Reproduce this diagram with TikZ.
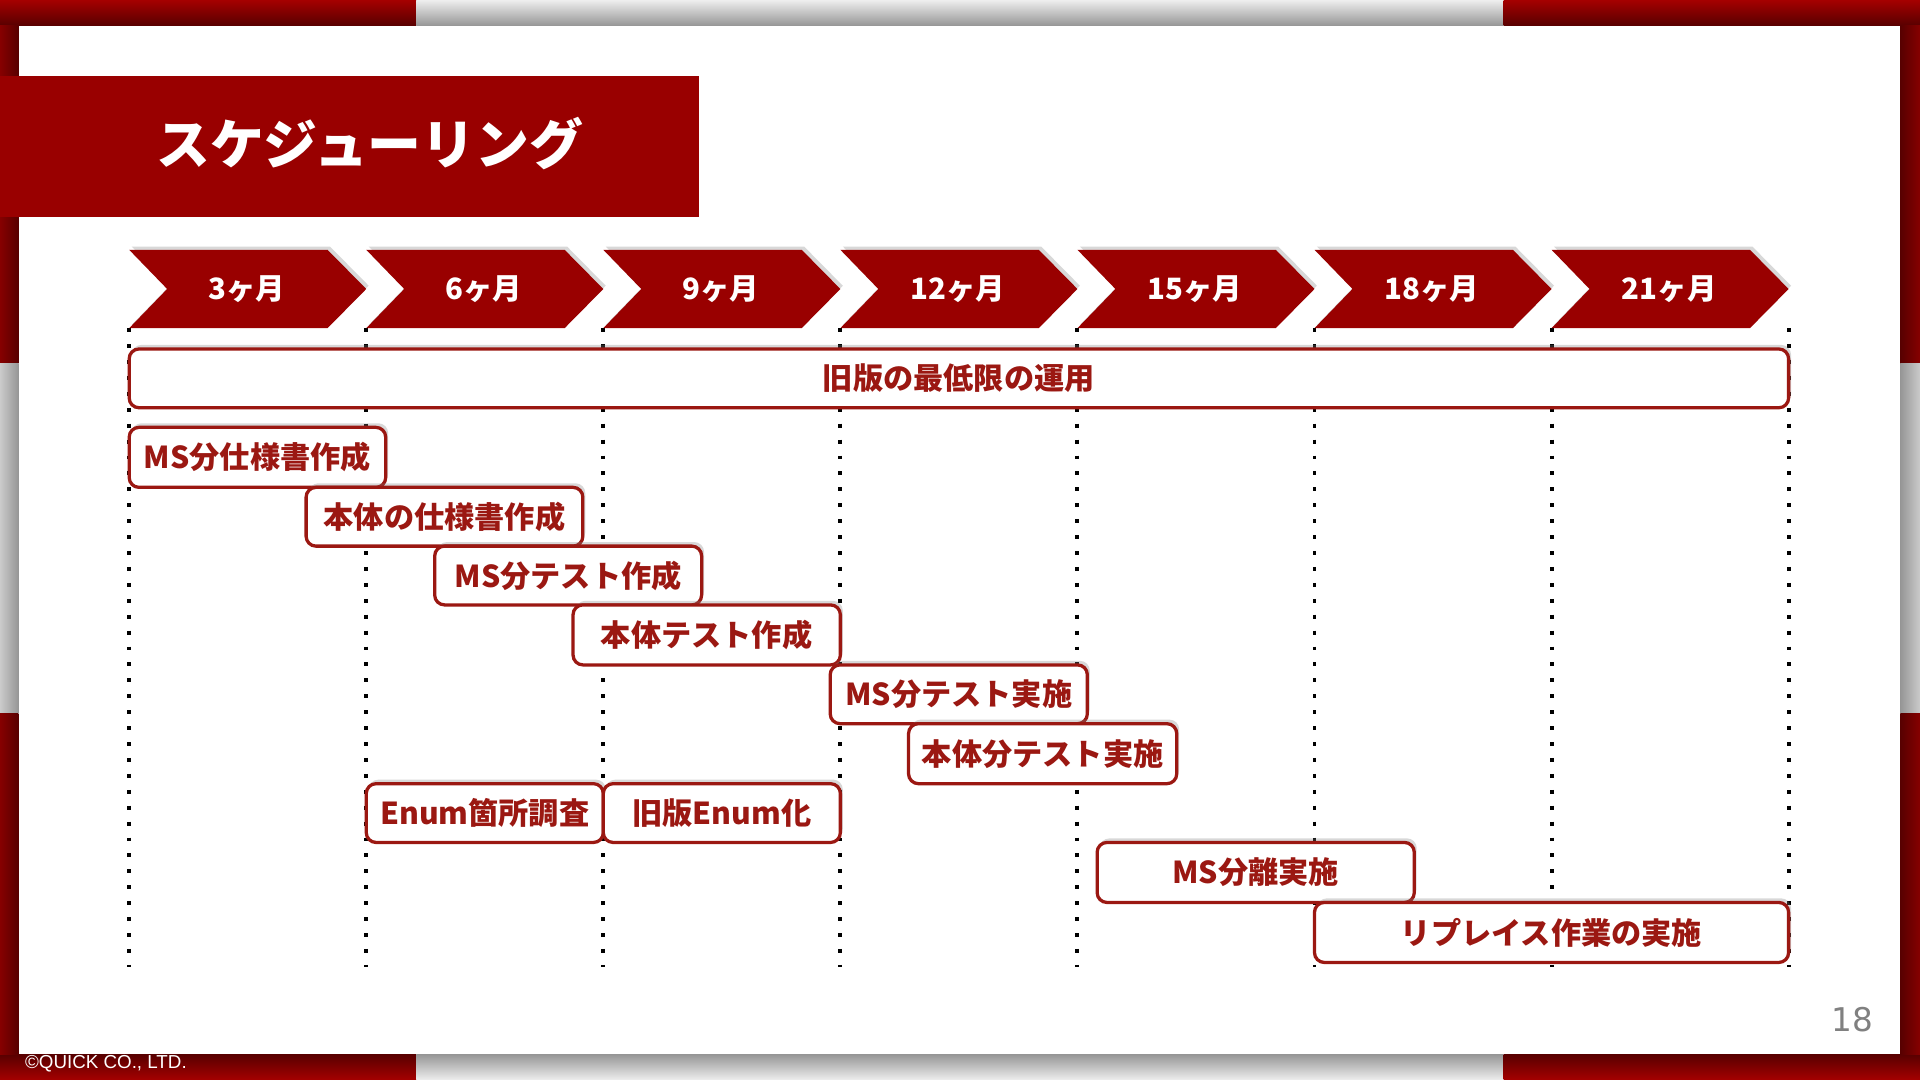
\documentclass[tikz,border=0pt]{standalone}
\usepackage{fontspec}
\newfontfamily\jpfont{Noto Sans CJK JP}
\newfontfamily\numfont{DejaVu Sans}
\newfontfamily\copyfont{Liberation Sans}
\usetikzlibrary{shadows}

\definecolor{titlered}{RGB}{153,0,0}
\definecolor{taskred}{RGB}{155,24,18}
\definecolor{framered}{RGB}{165,0,0}
\definecolor{framedark}{RGB}{88,0,0}
\definecolor{framegray}{RGB}{150,150,150}
\definecolor{framelight}{RGB}{238,238,238}
\definecolor{pagegray}{RGB}{128,128,128}

\tikzset{every picture/.style={line width=0.75pt}}
\tikzset{
  chevron/.style={fill=titlered, drop shadow={shadow xshift=1.5pt, shadow yshift=2pt, opacity=0.3}},
  taskbox/.style={draw=taskred, line width=2pt, fill=white, rounded corners=6pt, drop shadow={shadow xshift=1.5pt, shadow yshift=2.5pt, opacity=0.3}},
  gridline/.style={line width=2.4pt, dash pattern=on 2.4pt off 7.35pt},
  chevtext/.style={text=white, inner sep=0pt, font=\jpfont\bfseries\fontsize{18}{20}\selectfont},
  tasktext/.style={text=taskred, inner sep=0pt, font=\jpfont\bfseries\fontsize{18.5}{20}\selectfont},
}

\begin{document}
\begin{tikzpicture}[x=0.75pt,y=0.75pt,yscale=-1,xscale=1]
\useasboundingbox (0,0) rectangle (1568,882);

%Shape: Frame
\fill[white] (0,0) rectangle (1568,882);
\shade[top color=framered, bottom color=framedark] (0,0) rectangle (340,21);
\shade[top color=framelight, bottom color=framegray] (340,0) rectangle (1228,21);
\shade[top color=framered, bottom color=framedark] (1228,0) rectangle (1568,21);
\shade[top color=framedark, bottom color=framered] (0,861) rectangle (340,882);
\shade[top color=framegray, bottom color=framelight] (340,861) rectangle (1228,882);
\shade[top color=framedark, bottom color=framered] (1228,861) rectangle (1568,882);
\shade[left color=framered!60!framedark, right color=framedark] (0,21) rectangle (15,297);
\shade[left color=framelight!60!framegray, right color=framegray] (0,297) rectangle (15,583);
\shade[left color=framered!60!framedark, right color=framedark] (0,583) rectangle (15,861);
\shade[left color=framedark, right color=framered!60!framedark] (1552,21) rectangle (1568,297);
\shade[left color=framegray, right color=framelight!60!framegray] (1552,297) rectangle (1568,583);
\shade[left color=framedark, right color=framered!60!framedark] (1552,583) rectangle (1568,861);

%Shape: Title Rectangle
\fill[titlered] (0,62) rectangle (571,177);
% Text Node
\draw (302,117) node [text=white, inner sep=0pt, font=\jpfont\bfseries\fontsize{33}{36}\selectfont] (title) {スケジューリング};

%Straight Lines: Month Grid
\draw[gridline] (105.5,268) -- (105.5,790);
\draw[gridline] (299.1,268) -- (299.1,790);
\draw[gridline] (492.7,268) -- (492.7,790);
\draw[gridline] (686.3,268) -- (686.3,790);
\draw[gridline] (879.9,268) -- (879.9,790);
\draw[gridline] (1073.5,268) -- (1073.5,790);
\draw[gridline] (1267.1,268) -- (1267.1,790);
\draw[gridline] (1460.7,268) -- (1460.7,790);

%Shape: Chevron
\fill[chevron] (105.5,204) -- (267.5,204) -- (299.1,236) -- (267.5,268) -- (105.5,268) -- (136.5,236) -- cycle;
%Shape: Chevron
\fill[chevron] (299.1,204) -- (461.1,204) -- (492.7,236) -- (461.1,268) -- (299.1,268) -- (330.1,236) -- cycle;
%Shape: Chevron
\fill[chevron] (492.7,204) -- (654.7,204) -- (686.3,236) -- (654.7,268) -- (492.7,268) -- (523.7,236) -- cycle;
%Shape: Chevron
\fill[chevron] (686.3,204) -- (848.3,204) -- (879.9,236) -- (848.3,268) -- (686.3,268) -- (717.3,236) -- cycle;
%Shape: Chevron
\fill[chevron] (879.9,204) -- (1041.9,204) -- (1073.5,236) -- (1041.9,268) -- (879.9,268) -- (910.9,236) -- cycle;
%Shape: Chevron
\fill[chevron] (1073.5,204) -- (1235.5,204) -- (1267.1,236) -- (1235.5,268) -- (1073.5,268) -- (1104.5,236) -- cycle;
%Shape: Chevron
\fill[chevron] (1267.1,204) -- (1429.1,204) -- (1460.7,236) -- (1429.1,268) -- (1267.1,268) -- (1298.1,236) -- cycle;

% Text Node
\draw (201.5,236) node [chevtext] (m3) {3ヶ月};
% Text Node
\draw (395.1,236) node [chevtext] (m6) {6ヶ月};
% Text Node
\draw (588.7,236) node [chevtext] (m9) {9ヶ月};
% Text Node
\draw (782.3,236) node [chevtext] (m12) {12ヶ月};
% Text Node
\draw (975.9,236) node [chevtext] (m15) {15ヶ月};
% Text Node
\draw (1169.5,236) node [chevtext] (m18) {18ヶ月};
% Text Node
\draw (1363.1,236) node [chevtext] (m21) {21ヶ月};

%Shape: Rounded Rectangle
\draw[taskbox] (105.5,285) rectangle (1460.7,333);
% Text Node
\draw (783,309) node [tasktext] (oldops) {旧版の最低限の運用};

%Shape: Rounded Rectangle
\draw[taskbox] (105.5,349) rectangle (315,398);
% Text Node
\draw (210.25,373.5) node [tasktext] (msspec) {MS分仕様書作成};
%Shape: Rounded Rectangle
\draw[taskbox] (250,398) rectangle (476,446);
% Text Node
\draw (363,422) node [tasktext] (mainspec) {本体の仕様書作成};
%Shape: Rounded Rectangle
\draw[taskbox] (355,446) rectangle (573,494);
% Text Node
\draw (464,470) node [tasktext] (mstest) {MS分テスト作成};
%Shape: Rounded Rectangle
\draw[taskbox] (468,494) rectangle (686.3,543);
% Text Node
\draw (577,518.5) node [tasktext] (maintest) {本体テスト作成};
%Shape: Rounded Rectangle
\draw[taskbox] (678,543) rectangle (888,591);
% Text Node
\draw (783,567) node [tasktext] (msrun) {MS分テスト実施};
%Shape: Rounded Rectangle
\draw[taskbox] (742,591) rectangle (961,640);
% Text Node
\draw (851.5,615.5) node [tasktext] (mainrun) {本体分テスト実施};
%Shape: Rounded Rectangle
\draw[taskbox] (299.1,640) rectangle (492.7,688);
% Text Node
\draw (395.9,664) node [tasktext] (enumsurvey) {Enum箇所調査};
%Shape: Rounded Rectangle
\draw[taskbox] (492.7,640) rectangle (686.3,688);
% Text Node
\draw (589.5,664) node [tasktext] (enumold) {旧版Enum化};
%Shape: Rounded Rectangle
\draw[taskbox] (896,688) rectangle (1155,737);
% Text Node
\draw (1025.5,712.5) node [tasktext] (mssplit) {MS分離実施};
%Shape: Rounded Rectangle
\draw[taskbox] (1073.5,737) rectangle (1460.7,786);
% Text Node
\draw (1267.1,761.5) node [tasktext] (replace) {リプレイス作業の実施};

% Text Node
\draw (1513,833) node [text=pagegray, inner sep=0pt, font=\numfont\fontsize{20}{22}\selectfont] (pageno) {18};
% Text Node
\draw (20,869) node [anchor=west, text=white, inner sep=0pt, font=\copyfont\fontsize{11.5}{13}\selectfont] (copyright) {©QUICK CO., LTD.};

\end{tikzpicture}
\end{document}
